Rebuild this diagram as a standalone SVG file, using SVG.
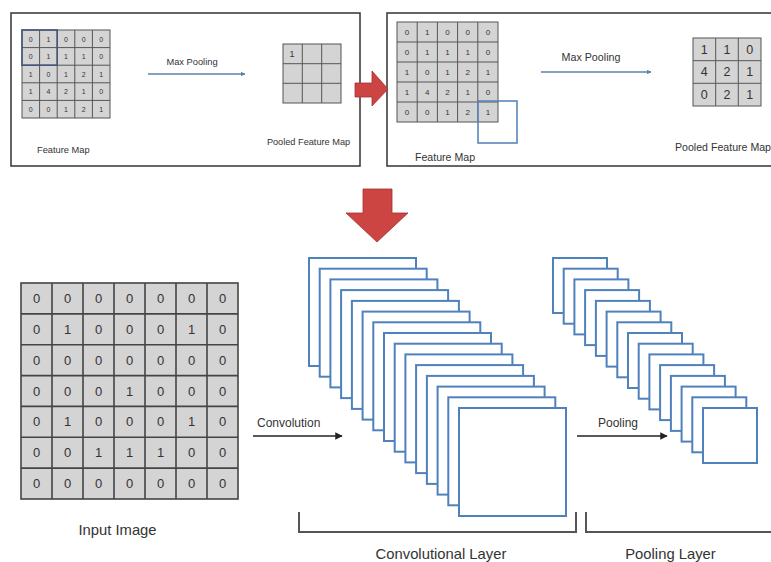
<svg xmlns="http://www.w3.org/2000/svg" width="771" height="562" viewBox="0 0 771 562">
<defs>
<style>
text{font-family:"Liberation Sans",Arial,sans-serif;fill:#333}
.panel{fill:#fff;stroke:#333;stroke-width:1.5}
.cell{fill:#d4d4d4;stroke:#555;stroke-width:1}
.gline{stroke:#555;stroke-width:1;fill:none}
.big{stroke:#444;stroke-width:1.6}
.fm{fill:#fff;stroke:#4f81bd;stroke-width:2}
.n7{font-size:7px;text-anchor:middle;fill:#555}
.n8{font-size:8px;text-anchor:middle;fill:#555}
.n12{font-family:"DejaVu Sans Mono","Liberation Mono",monospace;font-size:12.5px;text-anchor:middle;fill:#444}
.n13{font-size:13px;text-anchor:middle;fill:#444}
.red{fill:#cc4543;stroke:#a3312e;stroke-width:0.8}
.conn{stroke:#222;stroke-width:1.5;fill:none}
.bconn{stroke:#5d82aa;stroke-width:1.5;fill:none}
.brk{stroke:#555;stroke-width:2;fill:none}
</style>
<marker id="ah" viewBox="0 0 10 10" refX="9" refY="5" markerWidth="5" markerHeight="5" orient="auto"><path d="M0,0 L10,5 L0,10 z" fill="#222"/></marker>
<marker id="bh" viewBox="0 0 10 10" refX="9" refY="5" markerWidth="3" markerHeight="3" orient="auto"><path d="M0,0 L10,5 L0,10 z" fill="#5d82aa"/></marker>
</defs>
<rect width="771" height="562" fill="#fff"/>

<!-- Top-left panel -->
<g id="panel-left">
<rect class="panel" x="11" y="13" width="349" height="153"/>
<g id="fm-left">
<rect class="cell" x="22" y="30" width="88" height="88"/>
<path class="gline" d="M39.6,30V118M57.2,30V118M74.8,30V118M92.4,30V118M22,47.6H110M22,65.2H110M22,82.8H110M22,100.4H110"/>
<rect x="22" y="30" width="35.2" height="35.2" fill="none" stroke="#46587a" stroke-width="1.6"/>
<g class="n7">
<text x="30.8" y="41.5">0</text><text x="48.4" y="41.5">1</text><text x="66" y="41.5">0</text><text x="83.6" y="41.5">0</text><text x="101.2" y="41.5">0</text>
<text x="30.8" y="59.1">0</text><text x="48.4" y="59.1">1</text><text x="66" y="59.1">1</text><text x="83.6" y="59.1">1</text><text x="101.2" y="59.1">0</text>
<text x="30.8" y="76.7">1</text><text x="48.4" y="76.7">0</text><text x="66" y="76.7">1</text><text x="83.6" y="76.7">2</text><text x="101.2" y="76.7">1</text>
<text x="30.8" y="94.3">1</text><text x="48.4" y="94.3">4</text><text x="66" y="94.3">2</text><text x="83.6" y="94.3">1</text><text x="101.2" y="94.3">0</text>
<text x="30.8" y="111.9">0</text><text x="48.4" y="111.9">0</text><text x="66" y="111.9">1</text><text x="83.6" y="111.9">2</text><text x="101.2" y="111.9">1</text>
</g>
<text x="37" y="153" font-size="9.3">Feature Map</text>
</g>
<text x="192" y="65" font-size="9.3" text-anchor="middle">Max Pooling</text>
<g id="pooled-left">
<rect class="cell" x="283" y="44" width="58" height="59"/>
<path class="gline" d="M302.3,44V103M321.7,44V103M283,63.7H341M283,83.3H341"/>
<text x="292" y="57" font-size="9" text-anchor="middle" fill="#444">1</text>
<text x="308.5" y="145" font-size="9.2" text-anchor="middle">Pooled Feature Map</text>
</g>
</g>

<!-- Top-right panel -->
<g id="panel-right">
<rect class="panel" x="387" y="13" width="390" height="153"/>
<g id="fm-right">
<rect class="cell" x="397" y="22" width="101" height="100"/>
<path class="gline" d="M417.2,22V122M437.4,22V122M457.6,22V122M477.8,22V122M397,42H498M397,62H498M397,82H498M397,102H498"/>
<g class="n8">
<text x="407.1" y="35">0</text><text x="427.3" y="35">1</text><text x="447.5" y="35">0</text><text x="467.7" y="35">0</text><text x="487.9" y="35">0</text>
<text x="407.1" y="55">0</text><text x="427.3" y="55">1</text><text x="447.5" y="55">1</text><text x="467.7" y="55">1</text><text x="487.9" y="55">0</text>
<text x="407.1" y="75">1</text><text x="427.3" y="75">0</text><text x="447.5" y="75">1</text><text x="467.7" y="75">2</text><text x="487.9" y="75">1</text>
<text x="407.1" y="95">1</text><text x="427.3" y="95">4</text><text x="447.5" y="95">2</text><text x="467.7" y="95">1</text><text x="487.9" y="95">0</text>
<text x="407.1" y="115">0</text><text x="427.3" y="115">0</text><text x="447.5" y="115">1</text><text x="467.7" y="115">2</text><text x="487.9" y="115">1</text>
</g>
<rect x="478" y="101" width="39" height="42" fill="none" stroke="#5b86b8" stroke-width="1.6"/>
<text x="415" y="161" font-size="10.6">Feature Map</text>
</g>
<text x="591" y="61" font-size="10.7" text-anchor="middle">Max Pooling</text>
<g id="pooled-right">
<rect class="cell" x="693" y="38" width="68" height="68"/>
<path class="gline" d="M715.7,38V106M738.3,38V106M693,60.7H761M693,83.3H761"/>
<g class="n12">
<text x="704.3" y="53.5">1</text><text x="727" y="53.5">1</text><text x="749.7" y="53.5">0</text>
<text x="704.3" y="76.2">4</text><text x="727" y="76.2">2</text><text x="749.7" y="76.2">1</text>
<text x="704.3" y="98.8">0</text><text x="727" y="98.8">2</text><text x="749.7" y="98.8">1</text>
</g>
<text x="675" y="151" font-size="10.6">Pooled Feature Map</text>
</g>
</g>

<!-- Big red arrows -->
<g id="arrow-right">
<path class="red" d="M355,83 H372 V71 L388,89 L372,106 V97 H355 Z"/>
</g>
<g id="arrow-down">
<path class="red" d="M363,189 H392 V213 H408 L377,242 L346,213 H363 Z"/>
</g>

<!-- Input image -->
<g id="input-image">
<rect class="cell big" x="21" y="283" width="217" height="216"/>
<path class="gline big" d="M52,283V499M83,283V499M114,283V499M145,283V499M176,283V499M207,283V499M21,313.9H238M21,344.7H238M21,375.6H238M21,406.4H238M21,437.3H238M21,468.1H238"/>
<g class="n13">
<text x="36.5" y="303">0</text><text x="67.5" y="303">0</text><text x="98.5" y="303">0</text><text x="129.5" y="303">0</text><text x="160.5" y="303">0</text><text x="191.5" y="303">0</text><text x="222.5" y="303">0</text>
<text x="36.5" y="333.9">0</text><text x="67.5" y="333.9">1</text><text x="98.5" y="333.9">0</text><text x="129.5" y="333.9">0</text><text x="160.5" y="333.9">0</text><text x="191.5" y="333.9">1</text><text x="222.5" y="333.9">0</text>
<text x="36.5" y="364.7">0</text><text x="67.5" y="364.7">0</text><text x="98.5" y="364.7">0</text><text x="129.5" y="364.7">0</text><text x="160.5" y="364.7">0</text><text x="191.5" y="364.7">0</text><text x="222.5" y="364.7">0</text>
<text x="36.5" y="395.6">0</text><text x="67.5" y="395.6">0</text><text x="98.5" y="395.6">0</text><text x="129.5" y="395.6">1</text><text x="160.5" y="395.6">0</text><text x="191.5" y="395.6">0</text><text x="222.5" y="395.6">0</text>
<text x="36.5" y="426.4">0</text><text x="67.5" y="426.4">1</text><text x="98.5" y="426.4">0</text><text x="129.5" y="426.4">0</text><text x="160.5" y="426.4">0</text><text x="191.5" y="426.4">1</text><text x="222.5" y="426.4">0</text>
<text x="36.5" y="457.3">0</text><text x="67.5" y="457.3">0</text><text x="98.5" y="457.3">1</text><text x="129.5" y="457.3">1</text><text x="160.5" y="457.3">1</text><text x="191.5" y="457.3">0</text><text x="222.5" y="457.3">0</text>
<text x="36.5" y="488.1">0</text><text x="67.5" y="488.1">0</text><text x="98.5" y="488.1">0</text><text x="129.5" y="488.1">0</text><text x="160.5" y="488.1">0</text><text x="191.5" y="488.1">0</text><text x="222.5" y="488.1">0</text>
</g>
<text x="117.5" y="535" font-size="14.8" text-anchor="middle">Input Image</text>
</g>

<!-- Convolutional layer -->
<g id="conv-layer">
<rect class="fm" x="309" y="258" width="107" height="108"/>
<rect class="fm" x="319.7" y="268.7" width="107" height="108"/>
<rect class="fm" x="330.4" y="279.4" width="107" height="108"/>
<rect class="fm" x="341.1" y="290.1" width="107" height="108"/>
<rect class="fm" x="351.9" y="300.9" width="107" height="108"/>
<rect class="fm" x="362.6" y="311.6" width="107" height="108"/>
<rect class="fm" x="373.3" y="322.3" width="107" height="108"/>
<rect class="fm" x="384" y="333" width="107" height="108"/>
<rect class="fm" x="394.7" y="343.7" width="107" height="108"/>
<rect class="fm" x="405.4" y="354.4" width="107" height="108"/>
<rect class="fm" x="416.1" y="365.1" width="107" height="108"/>
<rect class="fm" x="426.9" y="375.9" width="107" height="108"/>
<rect class="fm" x="437.6" y="386.6" width="107" height="108"/>
<rect class="fm" x="448.3" y="397.3" width="107" height="108"/>
<rect class="fm" x="459" y="408" width="107" height="108"/>
<path class="brk" d="M299,512V532H576V512"/>
<text x="441" y="559" font-size="14.8" text-anchor="middle">Convolutional Layer</text>
</g>

<!-- Pooling layer -->
<g id="pool-layer">
<rect class="fm" x="553" y="258" width="54" height="55"/>
<rect class="fm" x="563.7" y="268.7" width="54" height="55"/>
<rect class="fm" x="574.4" y="279.4" width="54" height="55"/>
<rect class="fm" x="585.1" y="290.1" width="54" height="55"/>
<rect class="fm" x="595.9" y="300.9" width="54" height="55"/>
<rect class="fm" x="606.6" y="311.6" width="54" height="55"/>
<rect class="fm" x="617.3" y="322.3" width="54" height="55"/>
<rect class="fm" x="628" y="333" width="54" height="55"/>
<rect class="fm" x="638.7" y="343.7" width="54" height="55"/>
<rect class="fm" x="649.4" y="354.4" width="54" height="55"/>
<rect class="fm" x="660.1" y="365.1" width="54" height="55"/>
<rect class="fm" x="670.9" y="375.9" width="54" height="55"/>
<rect class="fm" x="681.6" y="386.6" width="54" height="55"/>
<rect class="fm" x="692.3" y="397.3" width="54" height="55"/>
<rect class="fm" x="703" y="408" width="54" height="55"/>
<path class="brk" d="M586,512V532H775"/>
<text x="670.5" y="559" font-size="14.8" text-anchor="middle">Pooling Layer</text>
</g>

<!-- Connectors -->
<g id="connectors">
<line class="bconn" x1="148" y1="74" x2="245" y2="74" marker-end="url(#bh)"/>
<line class="bconn" x1="541" y1="72" x2="651" y2="72" marker-end="url(#bh)"/>
<line class="conn" x1="253" y1="436" x2="342" y2="436" marker-end="url(#ah)"/>
<line class="conn" x1="577" y1="436" x2="667" y2="436" marker-end="url(#ah)"/>
<text x="257" y="427" font-size="12">Convolution</text>
<text x="618" y="427" font-size="12" text-anchor="middle">Pooling</text>
</g>
</svg>
